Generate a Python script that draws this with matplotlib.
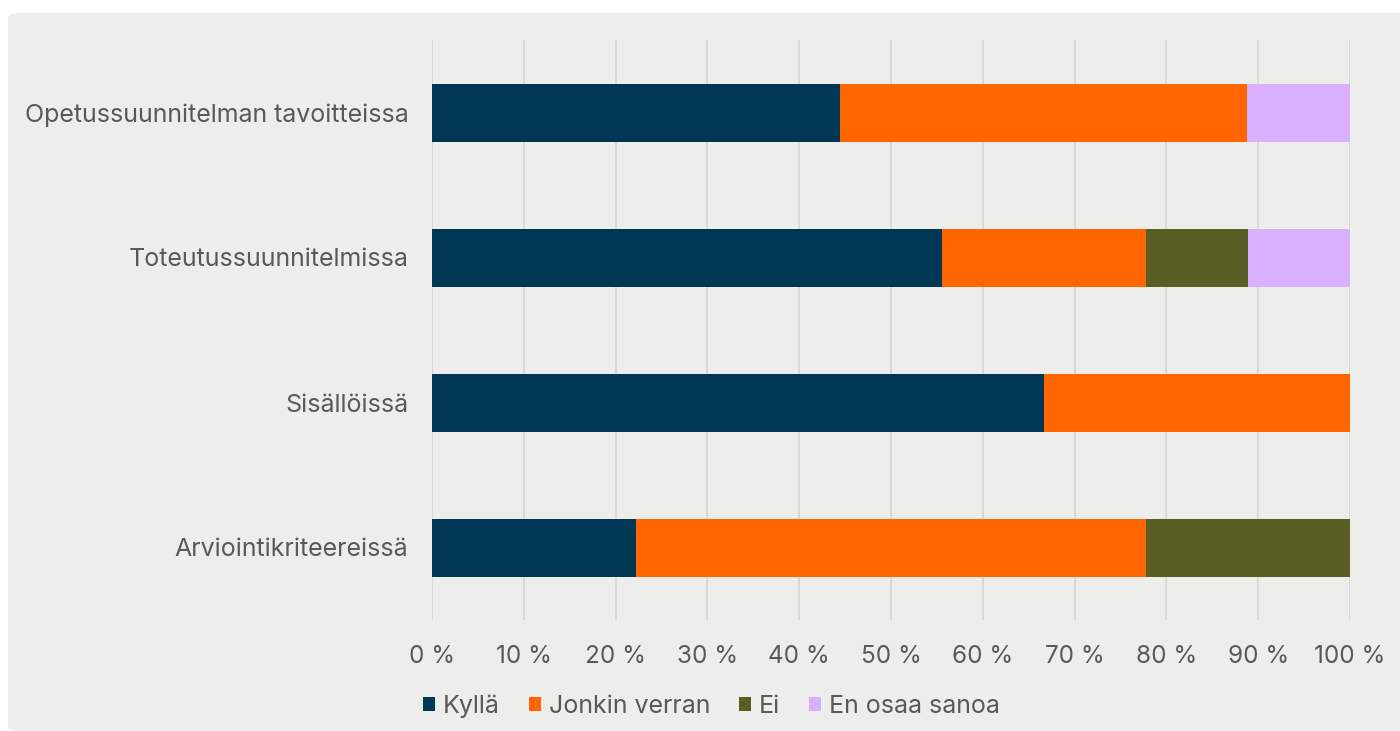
import matplotlib
matplotlib.use("Agg")
import matplotlib.pyplot as plt
from matplotlib.patches import FancyBboxPatch
import numpy as np

plt.rcParams['font.family'] = ['Inter', 'DejaVu Sans']

categories = ["Opetussuunnitelman tavoitteissa", "Toteutussuunnitelmissa",
              "Sisällöissä", "Arviointikriteereissä"]
series = ["Kyllä", "Jonkin verran", "Ei", "En osaa sanoa"]
kylla = [44.4, 55.6, 66.7, 22.2]
jonkin = [44.4, 22.2, 33.3, 55.6]
ei = [0.0, 11.1, 0.0, 22.2]
en_osaa = [11.2, 11.1, 0.0, 0.0]
colors = ["#003755", "#FF6600", "#5A5E22", "#D9B0FF"]
xticks = list(range(0, 101, 10))

BG = "#EDEDEB"
TXT = "#595959"

fig = plt.figure(figsize=(14, 7.31), dpi=100)
fig.patch.set_facecolor("white")
fig.patches.append(FancyBboxPatch((8 / 1400, 0), 1 - 8 / 1400 + 0.01, 1 - 13 / 731,
                                  boxstyle="round,pad=0,rounding_size=0.008",
                                  transform=fig.transFigure, facecolor=BG,
                                  edgecolor="none", zorder=-10))

ax = fig.add_axes([432 / 1400, 1 - 620 / 731, (1350 - 432) / 1400, 580 / 731])
ax.patch.set_alpha(0)

y = np.arange(len(categories))
left = np.zeros(len(categories))
for vals, name, c in zip([kylla, jonkin, ei, en_osaa], series, colors):
    ax.barh(y, vals, left=left, height=0.4, color=c, label=name, zorder=3)
    left += np.array(vals)

ax.set_xlim(0, 100)
ax.set_ylim(3.5, -0.5)
ax.set_yticks(y)
ax.set_yticklabels(categories, fontsize=18, color=TXT)
ax.set_xticks(xticks)
ax.set_xticklabels([f"{t} %" for t in xticks], fontsize=17.5, color=TXT)
ax.tick_params(axis="y", length=0, pad=17)
ax.tick_params(axis="x", length=0, pad=18)
ax.grid(axis="x", color="#D6D6D6", lw=1.2, zorder=0)
for s in ax.spines.values():
    s.set_visible(False)

leg = fig.legend(loc="center", bbox_to_anchor=(0.508, 1 - 706 / 731), ncol=4,
                 frameon=False, fontsize=18, handlelength=0.5, handleheight=0.5,
                 handletextpad=0.3, columnspacing=1.15)
for t in leg.get_texts():
    t.set_color(TXT)

fig.savefig("out.png", dpi=100, facecolor=fig.get_facecolor())
